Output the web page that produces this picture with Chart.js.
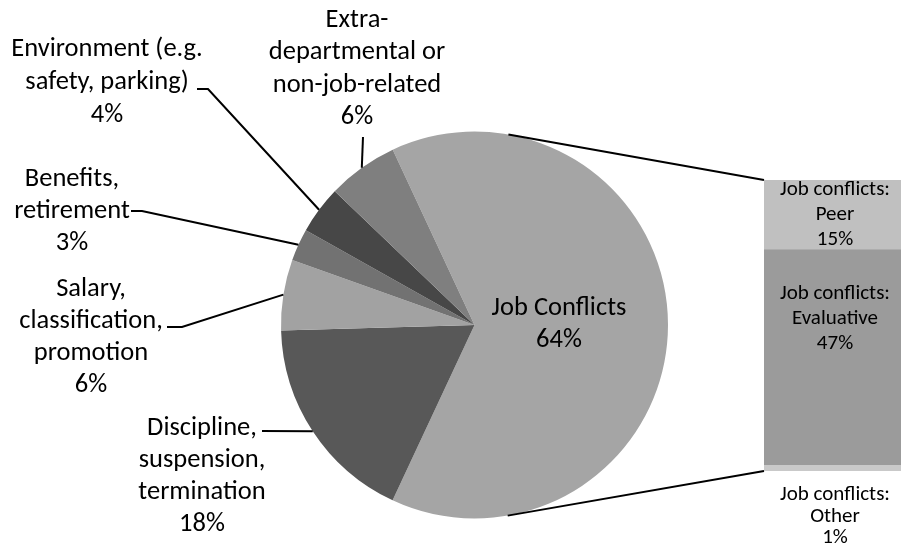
<!DOCTYPE html>
<html><head><meta charset="utf-8">
<script src="https://cdn.jsdelivr.net/npm/chart.js@4/dist/chart.umd.min.js"></script>
<style>
html,body{margin:0;padding:0;background:#fff;overflow:hidden}
#wrap{position:relative;width:901px;height:548px}
canvas{position:absolute;left:0;top:0}
</style></head><body>
<div id="wrap"><canvas id="pie" width="901" height="548"></canvas><canvas id="bar" width="901" height="548"></canvas></div>
<script>
// ---- data ----
const pieCategories = ['Job Conflicts', 'Discipline, suspension, termination', 'Salary, classification, promotion', 'Benefits, retirement', 'Environment (e.g. safety, parking)', 'Extra-departmental or non-job-related'];
const pieLabelLines = [['Job Conflicts'], ['Discipline,', 'suspension,', 'termination'], ['Salary,', 'classification,', 'promotion'], ['Benefits,', 'retirement'], ['Environment (e.g.', 'safety, parking)'], ['Extra-', 'departmental or', 'non-job-related']];
const pieValues = [63.9, 17.6, 5.9, 2.7, 4.0, 5.9];
const pieColors = ['#a5a5a5', '#585858', '#a2a2a2', '#727272', '#474747', '#7f7f7f'];

const subCategories = ['Job conflicts: Peer', 'Job conflicts: Evaluative', 'Job conflicts: Other'];
const subLabelLines = [['Job conflicts:', 'Peer'], ['Job conflicts:', 'Evaluative'], ['Job conflicts:', 'Other']];
const subValues = [15.2, 47.3, 1.4];
const subColors = ['#c0c0c0', '#9b9b9b', '#c9c9c9'];

// ---- layout (label placement only) ----
const FONT = 'Carlito, Lato, "Open Sans", sans-serif';
const pieLabelPos = [
  {x: 559, y: 308, lh: 32, leader: null},
  {x: 202, y: 428, lh: 32, leader: [[262, 431]]},
  {x: 91,  y: 289, lh: 32, leader: [[167, 327], [182, 327]]},
  {x: 72,  y: 179, lh: 32, leader: [[131, 211], [142, 211]]},
  {x: 107, y: 49,  lh: 33, leader: [[197, 89], [208, 89]]},
  {x: 357, y: 20,  lh: 32.5, leader: [[363, 137]]}
];

const total = pieValues.reduce((a, b) => a + b, 0);
const pct = v => Math.round(v / total * 100) + '%';

let pieChart;

const pieLabelsPlugin = {
  id: 'pieLabels',
  afterDatasetsDraw(chart) {
    const ctx = chart.ctx;
    const arcs = chart.getDatasetMeta(0).data;
    ctx.save();
    // leader lines
    ctx.strokeStyle = '#000';
    ctx.lineWidth = 2;
    arcs.forEach((el, i) => {
      const p = pieLabelPos[i];
      if (!p.leader) return;
      const mid = (el.startAngle + el.endAngle) / 2;
      const ax = el.x + Math.cos(mid) * el.outerRadius;
      const ay = el.y + Math.sin(mid) * el.outerRadius;
      ctx.beginPath();
      ctx.moveTo(p.leader[0][0], p.leader[0][1]);
      for (let k = 1; k < p.leader.length; k++) ctx.lineTo(p.leader[k][0], p.leader[k][1]);
      ctx.lineTo(ax, ay);
      ctx.stroke();
    });
    // texts
    ctx.fillStyle = '#000';
    ctx.font = '26.5px ' + FONT;
    ctx.textAlign = 'center';
    ctx.textBaseline = 'middle';
    pieValues.forEach((v, i) => {
      const p = pieLabelPos[i];
      const lines = pieLabelLines[i].concat([pct(v)]);
      lines.forEach((t, k) => ctx.fillText(t, p.x, p.y + k * p.lh));
    });
    ctx.restore();
  }
};

pieChart = new Chart(document.getElementById('pie'), {
  type: 'pie',
  data: {
    labels: pieCategories,
    datasets: [{data: pieValues, backgroundColor: pieColors, borderWidth: 0, hoverOffset: 0, offset: 0}]
  },
  options: {
    responsive: false, animation: false, devicePixelRatio: 1, events: [],
    rotation: -25,
    layout: {padding: {left: 281, right: 233, top: 131.5, bottom: 29.5}},
    plugins: {legend: {display: false}, tooltip: {enabled: false}}
  },
  plugins: [pieLabelsPlugin]
});

const subTotal = subValues.reduce((a, b) => a + b, 0);

const barPlugin = {
  id: 'barExtras',
  afterDatasetsDraw(chart) {
    const ctx = chart.ctx;
    const pieArc = pieChart.getDatasetMeta(0).data[0];
    const cx = pieArc.x, cy = pieArc.y, r = pieArc.outerRadius;
    const first = chart.getDatasetMeta(0).data[0];
    const last = chart.getDatasetMeta(subValues.length - 1).data[0];
    const topC = [first.x - first.width / 2, Math.min(first.y, first.base)];
    const botC = [last.x - last.width / 2, Math.max(last.y, last.base)];
    const tangent = (P, sign) => {
      const dx = P[0] - cx, dy = P[1] - cy;
      const d = Math.hypot(dx, dy);
      const phi = Math.atan2(dy, dx);
      const a = Math.acos(r / d);
      const t = phi + sign * a;
      return [cx + Math.cos(t) * r, cy + Math.sin(t) * r];
    };
    ctx.save();
    ctx.strokeStyle = '#000';
    ctx.lineWidth = 2;
    [[topC, -1], [botC, 1]].forEach(([P, s]) => {
      const T = tangent(P, s);
      ctx.beginPath();
      ctx.moveTo(T[0], T[1]);
      ctx.lineTo(P[0], P[1]);
      ctx.stroke();
    });
    // labels
    ctx.fillStyle = '#000';
    ctx.font = '21px ' + FONT;
    ctx.textAlign = 'center';
    ctx.textBaseline = 'middle';
    subValues.forEach((v, i) => {
      const el = chart.getDatasetMeta(i).data[0];
      const top = Math.min(el.y, el.base), bot = Math.max(el.y, el.base);
      const lines = subLabelLines[i].concat([pct(v)]);
      let y0, lh;
      if (i === 0) { lh = 25; y0 = (top + bot) / 2 - lh; }
      else if (i === 1) { lh = 25; y0 = top + 45; }
      else { lh = 21.5; y0 = bot + 24; }
      lines.forEach((t, k) => ctx.fillText(t, el.x + 2.5, y0 + k * lh));
    });
    ctx.restore();
  }
};

new Chart(document.getElementById('bar'), {
  type: 'bar',
  data: {
    labels: ['Job Conflicts'],
    datasets: subValues.map((v, i) => ({
      label: subCategories[i], data: [v], backgroundColor: subColors[i], borderWidth: 0,
      barPercentage: 1, categoryPercentage: 1
    }))
  },
  options: {
    responsive: false, animation: false, devicePixelRatio: 1, events: [],
    layout: {padding: {left: 764, right: 0, top: 180, bottom: 77}},
    scales: {
      x: {display: false, stacked: true},
      y: {display: false, stacked: true, reverse: true, min: 0, max: subTotal}
    },
    plugins: {legend: {display: false}, tooltip: {enabled: false}}
  },
  plugins: [barPlugin]
});
</script>
</body></html>
